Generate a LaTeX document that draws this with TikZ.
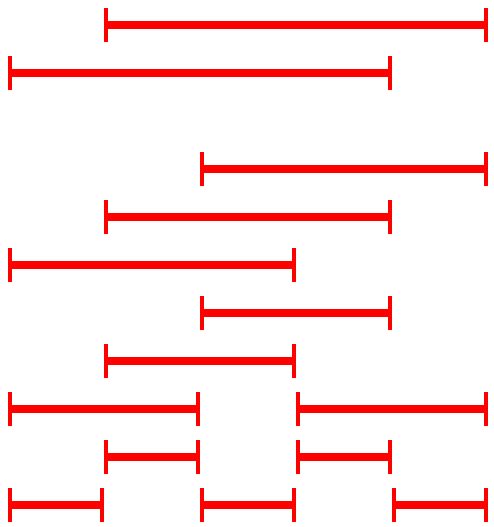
\documentclass[tikz,border=0pt]{standalone}
\begin{document}
\begin{tikzpicture}[x=1pt,y=-1pt,
  segline/.style={draw=red,line width=7.5pt},
  segbar/.style={draw=red,line width=4.5pt}]
\useasboundingbox (0,0) rectangle (494,527);
\foreach \r/\a/\b in {0/1/4, 1/0/3, 3/2/4, 4/1/3, 5/0/2, 6/2/3, 7/1/2, 8/0/1, 8/3/4, 9/1/1, 9/3/3, 10/0/0, 10/2/2, 10/4/4} {
  \pgfmathsetmacro\yy{25+48*\r}
  \pgfmathsetmacro\xa{10+96*\a}
  \pgfmathsetmacro\xb{102+96*\b}
  \coordinate (L-\r-\a) at (\xa,\yy);
  \coordinate (R-\r-\a) at (\xb,\yy);
  \draw[segline] (L-\r-\a) -- (R-\r-\a);
  \draw[segbar] ([yshift=17pt]L-\r-\a) -- ([yshift=-17pt]L-\r-\a);
  \draw[segbar] ([yshift=17pt]R-\r-\a) -- ([yshift=-17pt]R-\r-\a);
}
\end{tikzpicture}
\end{document}
